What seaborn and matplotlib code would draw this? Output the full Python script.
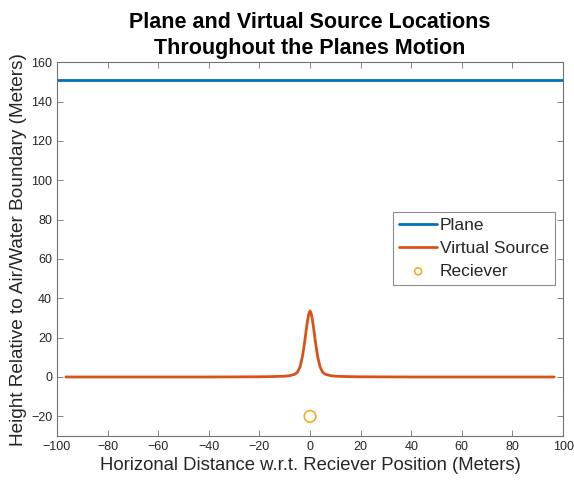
import matplotlib
matplotlib.use("Agg")
import matplotlib.pyplot as plt
import seaborn as sns
import pandas as pd

# Data
plane_x = [-100, 100]
plane_y = [151, 151]

vs_x = [-96.5, -60, -40, -20, -15, -10, -8, -6, -5, -4, -3.5, -3, -2.5, -2, -1.5, -1, -0.5, 0,
        0.5, 1, 1.5, 2, 2.5, 3, 3.5, 4, 5, 6, 8, 10, 15, 20, 40, 60, 96.5]
vs_y = [0, 0, 0, 0.1, 0.2, 0.4, 0.7, 1.4, 2.4, 5.0, 7.5, 10.5, 14.5, 19.0, 24.0, 28.5, 32.0, 33.6,
        32.0, 28.5, 24.0, 19.0, 14.5, 10.5, 7.5, 5.0, 2.4, 1.4, 0.7, 0.4, 0.2, 0.1, 0, 0, 0]

rx_x = [0]
rx_y = [-20]

x_ticks = list(range(-100, 101, 20))
y_ticks = list(range(-20, 161, 20))

sns.set_style("ticks")
plt.rcParams['font.family'] = ['Liberation Sans', 'DejaVu Sans']

fig = plt.figure(figsize=(5.74, 4.82), dpi=100)
ax = fig.add_axes([0.0993, 0.0954, 0.8817, 0.7756])

plane_df = pd.DataFrame({"x": plane_x, "y": plane_y})
vs_df = pd.DataFrame({"x": vs_x, "y": vs_y})
rx_df = pd.DataFrame({"x": rx_x, "y": rx_y})

sns.lineplot(data=plane_df, x="x", y="y", ax=ax, color="#0072BD", linewidth=2, label="Plane")
sns.lineplot(data=vs_df, x="x", y="y", ax=ax, color="#D95319", linewidth=2, label="Virtual Source")
sns.scatterplot(data=rx_df, x="x", y="y", ax=ax, marker="o", s=70, facecolors="none",
                edgecolor="#EDB120", linewidth=1.2, label="Reciever")

ax.set_xlim(-100, 100)
ax.set_ylim(-30, 160)
ax.set_xticks(x_ticks)
ax.set_yticks(y_ticks)
ax.tick_params(direction="in", top=True, right=True, labelsize=9, colors="#262626", length=4,
               width=0.6, labelcolor="#262626")
for sp in ax.spines.values():
    sp.set_visible(True)
    sp.set_color("#707070")
    sp.set_linewidth(0.8)
ax.tick_params(color="#707070")

ax.set_xlabel("Horizonal Distance w.r.t. Reciever Position (Meters)", fontsize=13.3,
              color="#262626", labelpad=3)
ax.set_ylabel("Height Relative to Air/Water Boundary (Meters)", fontsize=13.7,
              color="#262626", labelpad=3)
ax.set_title("Plane and Virtual Source Locations\nThroughout the Planes Motion", fontsize=15.5,
             fontweight="bold", color="black", pad=6, linespacing=1.3)

leg = ax.legend(loc="upper right", bbox_to_anchor=(0.984, 0.60), fontsize=12.5, frameon=True,
                fancybox=False, edgecolor="#707070", handlelength=2.2, handletextpad=0.15,
                borderpad=0.35, labelspacing=0.45, borderaxespad=0, markerscale=0.6)
leg.get_frame().set_linewidth(0.8)

fig.savefig("out.png", dpi=100)
